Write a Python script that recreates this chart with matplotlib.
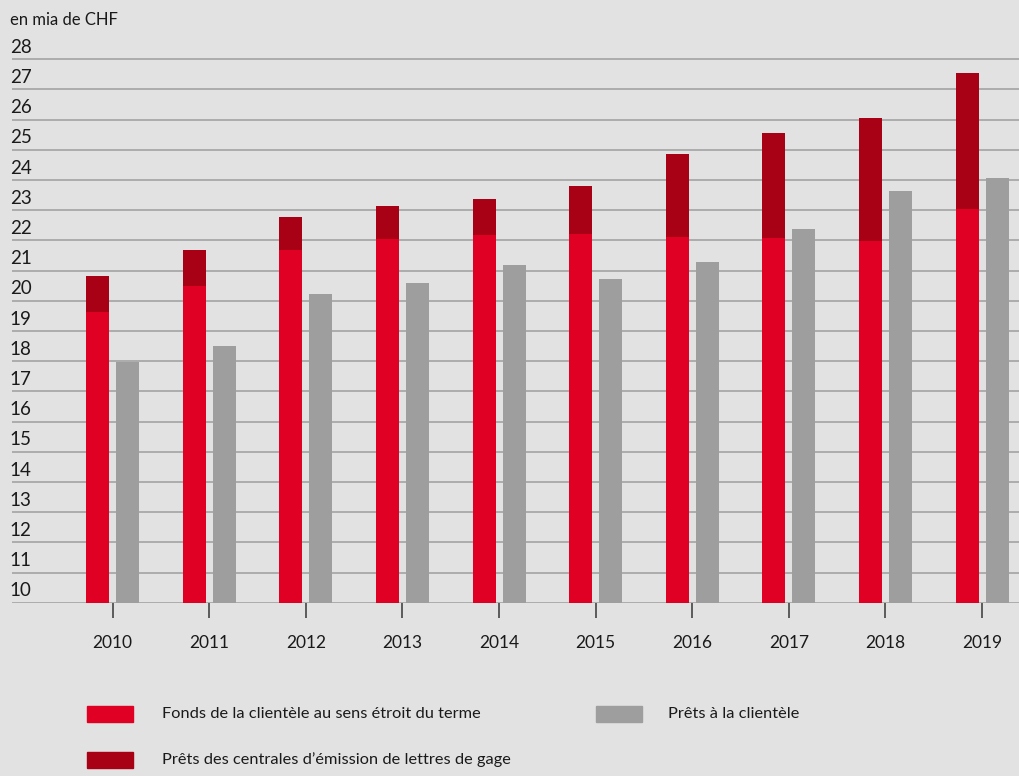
import numpy as np
import matplotlib.pyplot as plt
from matplotlib.patches import Rectangle

plt.rcParams['font.family'] = ['Lato', 'DejaVu Sans']

years = ['2010', '2011', '2012', '2013', '2014', '2015', '2016', '2017', '2018', '2019']
fonds = [19.64, 20.49, 21.68, 22.05, 22.18, 22.21, 22.11, 22.08, 21.98, 23.04]
pfand = [1.18, 1.19, 1.09, 1.09, 1.19, 1.59, 2.75, 3.49, 4.08, 4.50]
prets = [17.97, 18.50, 20.22, 20.59, 21.18, 20.72, 21.28, 22.38, 23.64, 24.07]
yticks = list(range(10, 29))

lbl_fonds = 'Fonds de la clientèle au sens étroit du terme'
lbl_pfand = 'Prêts des centrales d’émission de lettres de gage'
lbl_prets = 'Prêts à la clientèle'

bg = '#e1e2e1'
red = '#df0024'
dred = '#a80015'
grey = '#9d9e9d'
txt = '#1a1a1a'

W, H = 1020, 776
fig = plt.figure(figsize=(W / 100, H / 100), dpi=100, facecolor=bg)

# axes: gridlines from x=12px to right edge, y=10 at 602.7px, 30.19 px per unit
ax_bot = 602.7
unit = 30.19
top_val = 28.5
ax = fig.add_axes([12 / W, (H - ax_bot) / H, (W - 12) / W, (top_val - 10) * unit / H])
ax.set_facecolor(bg)

x = np.arange(len(years))
bw = 0.238
off = 0.155
ax.bar(x - off, fonds, bw, color=red, zorder=3)
ax.bar(x - off, pfand, bw, bottom=fonds, color=dred, zorder=3)
ax.bar(x + off, prets, bw, color=grey, zorder=3)

ax.set_xlim(-(112.7 - 12) / 96.6, (W - 112.7) / 96.6)
ax.set_ylim(10, top_val)

for v in yticks:
    ax.axhline(v, color='#a7a8a7', lw=1.3, zorder=1)
    ax.annotate(str(v), (0, v), xycoords=ax.get_yaxis_transform(),
                xytext=(-1.5, 4.6), textcoords='offset points',
                ha='left', va='baseline', fontsize=13.5, color=txt)

for s in ax.spines.values():
    s.set_visible(False)
ax.set_yticks([])
ax.set_xticks(x)
ax.set_xticklabels(years, fontsize=12.5, color=txt)
ax.tick_params(axis='x', length=11, width=1.2, color='#444444', pad=12, direction='out')

fig.text(10 / W, 1 - 20 / H, 'en mia de CHF', fontsize=12, color=txt, ha='left', va='center')

# legend
def leg(x0, y0, col, label, tx):
    fig.add_artist(Rectangle((x0 / W, 1 - (y0 + 16) / H), 46 / W, 16 / H,
                             transform=fig.transFigure, color=col))
    fig.text(tx / W, 1 - (y0 + 8) / H, label, fontsize=11.8, color=txt, ha='left', va='center')

leg(87, 706, red, lbl_fonds, 162)
leg(596, 706, grey, lbl_prets, 668)
leg(87, 752, dred, lbl_pfand, 162)

fig.savefig('out.png', dpi=100, facecolor=bg)
